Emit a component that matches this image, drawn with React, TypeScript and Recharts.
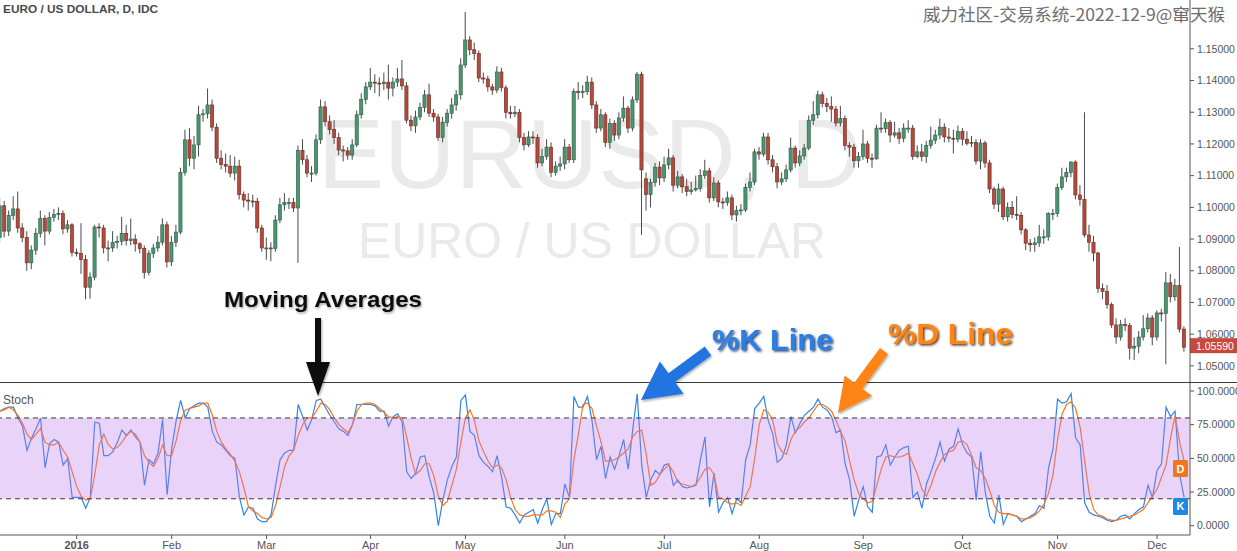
import React from "react";
import {
  ComposedChart,
  Bar,
  LineChart,
  Line,
  XAxis,
  YAxis,
  ReferenceArea,
  ReferenceLine,
} from "recharts";

// daily EUR/USD bars, Dec 2015 .. 9 Dec 2016 (index = trading day)
const opens = [
  1.0905,1.1005,1.0925,1.0975,1.0995,1.0935,1.0905,1.0825,1.0865,1.0918,
  1.0965,1.0925,1.0968,1.0978,1.0980,1.0932,1.0945,1.0858,1.0855,1.0835,
  1.0748,1.0780,1.0938,1.0935,1.0872,1.0872,1.0890,1.0893,1.0918,1.0895,
  1.0900,1.0885,1.0870,1.0795,1.0855,1.0872,1.0890,1.0945,1.0828,1.0890,
  1.0922,1.1110,1.1213,1.1155,1.1197,1.1292,1.1295,1.1323,1.1253,1.1155,
  1.1135,1.1130,1.1108,1.1130,1.1040,1.1023,1.1020,1.1018,1.0935,1.0872,
  1.0872,1.0870,1.0960,1.1008,1.1015,1.1015,1.0998,1.1180,1.1150,1.1108,
  1.1108,1.1213,1.1317,1.1270,1.1245,1.1220,1.1181,1.1178,1.1165,1.1197,
  1.1292,1.1340,1.1380,1.1395,1.1392,1.1390,1.1395,1.1376,1.1395,1.1405,
  1.1383,1.1275,1.1257,1.1285,1.1315,1.1355,1.1297,1.1285,1.1220,1.1268,
  1.1297,1.1323,1.1355,1.1449,1.1528,1.1497,1.1485,1.1408,1.1405,1.1380,
  1.1370,1.1427,1.1377,1.1300,1.1295,1.1300,1.1220,1.1197,1.1222,1.1220,
  1.1140,1.1160,1.1190,1.1110,1.1130,1.1137,1.1190,1.1150,1.1365,1.1362,
  1.1365,1.1395,1.1323,1.1250,1.1292,1.1205,1.1265,1.1228,1.1282,1.1313,
  1.1250,1.1339,1.1420,1.1090,1.1040,1.1078,1.1127,1.1093,1.1134,1.1156,
  1.1070,1.1096,1.1065,1.1050,1.1055,1.1060,1.1100,1.1115,1.1030,1.1077,
  1.1017,1.1015,1.1030,1.0976,1.0990,1.0992,1.1063,1.1080,1.1175,1.1168,
  1.1222,1.1150,1.1128,1.1080,1.1090,1.1118,1.1187,1.1140,1.1162,1.1187,
  1.1275,1.1292,1.1355,1.1328,1.1318,1.1310,1.1266,1.1280,1.1195,1.1190,
  1.1147,1.1160,1.1200,1.1155,1.1153,1.1250,1.1248,1.1267,1.1228,1.1235,
  1.1218,1.1250,1.1250,1.1160,1.1175,1.1160,1.1195,1.1212,1.1228,1.1253,
  1.1222,1.1218,1.1215,1.1240,1.1215,1.1202,1.1205,1.1146,1.1203,1.1140,
  1.1058,1.1010,1.1058,1.0970,1.1000,1.0978,1.0975,1.0929,1.0887,1.0882,
  1.0888,1.0907,1.0907,1.0980,1.0980,1.1062,1.1096,1.1110,1.1143,1.1039,
  1.1025,1.0913,1.0890,1.0856,1.0744,1.0735,1.0693,1.0629,1.0591,1.0630,
  1.0627,1.0556,1.0562,1.0591,1.0617,1.0651,1.0591,1.0667,1.0665,1.0762,
  1.0718,1.0753,1.0616,
];

const highs = [
  1.1030,1.1020,1.0990,1.1035,1.1050,1.0950,1.0925,1.0880,1.0935,1.0990,
  1.0975,1.0985,1.0995,1.1000,1.0990,1.0960,1.0950,1.0870,1.0950,1.0850,
  1.0795,1.0945,1.0950,1.0945,1.0895,1.0925,1.0910,1.0970,1.0945,1.0965,
  1.0915,1.0890,1.0880,1.0865,1.0885,1.0910,1.0965,1.0955,1.0910,1.0945,
  1.1125,1.1245,1.1250,1.1225,1.1320,1.1310,1.1375,1.1340,1.1265,1.1180,
  1.1170,1.1165,1.1160,1.1150,1.1050,1.1045,1.1040,1.1030,1.0945,1.0905,
  1.0890,1.0975,1.1030,1.1045,1.1030,1.1030,1.1195,1.1215,1.1165,1.1130,
  1.1230,1.1340,1.1335,1.1290,1.1275,1.1235,1.1195,1.1190,1.1215,1.1305,
  1.1360,1.1395,1.1440,1.1420,1.1410,1.1425,1.1450,1.1410,1.1440,1.1465,
  1.1395,1.1290,1.1305,1.1330,1.1370,1.1390,1.1310,1.1295,1.1285,1.1310,
  1.1345,1.1370,1.1470,1.1616,1.1540,1.1520,1.1495,1.1425,1.1415,1.1390,
  1.1445,1.1440,1.1385,1.1320,1.1320,1.1310,1.1235,1.1240,1.1240,1.1230,
  1.1185,1.1215,1.1205,1.1145,1.1160,1.1215,1.1200,1.1375,1.1395,1.1385,
  1.1415,1.1410,1.1335,1.1310,1.1300,1.1280,1.1275,1.1300,1.1350,1.1320,
  1.1350,1.1427,1.1428,1.1110,1.1090,1.1140,1.1145,1.1160,1.1185,1.1165,
  1.1115,1.1105,1.1090,1.1080,1.1100,1.1120,1.1150,1.1125,1.1095,1.1085,
  1.1030,1.1050,1.1040,1.1005,1.1010,1.1075,1.1110,1.1185,1.1190,1.1235,
  1.1235,1.1165,1.1140,1.1110,1.1135,1.1220,1.1195,1.1180,1.1200,1.1290,
  1.1335,1.1368,1.1365,1.1345,1.1350,1.1320,1.1320,1.1290,1.1205,1.1200,
  1.1175,1.1245,1.1210,1.1170,1.1260,1.1300,1.1280,1.1275,1.1270,1.1250,
  1.1265,1.1275,1.1260,1.1195,1.1200,1.1210,1.1255,1.1245,1.1280,1.1265,
  1.1250,1.1245,1.1258,1.1250,1.1240,1.1225,1.1215,1.1215,1.1210,1.1150,
  1.1065,1.1075,1.1065,1.1015,1.1020,1.1035,1.0985,1.0935,1.0900,1.0905,
  1.0945,1.0930,1.0985,1.0995,1.1075,1.1125,1.1125,1.1145,1.1148,1.1070,
  1.1300,1.0945,1.0910,1.0860,1.0760,1.0755,1.0700,1.0650,1.0645,1.0650,
  1.0635,1.0590,1.0610,1.0660,1.0665,1.0660,1.0675,1.0680,1.0796,1.0790,
  1.0775,1.0875,1.0625,
];

const lows = [
  1.0890,1.0905,1.0910,1.0960,1.0920,1.0890,1.0800,1.0805,1.0850,1.0905,
  1.0880,1.0915,1.0955,1.0960,1.0915,1.0920,1.0845,1.0845,1.0790,1.0710,
  1.0712,1.0770,1.0905,1.0855,1.0830,1.0860,1.0870,1.0880,1.0880,1.0880,
  1.0860,1.0855,1.0775,1.0785,1.0840,1.0860,1.0880,1.0810,1.0815,1.0875,
  1.0915,1.1100,1.1130,1.1120,1.1160,1.1270,1.1280,1.1240,1.1140,1.1120,
  1.1110,1.1095,1.1085,1.1025,1.1000,1.0990,1.1000,1.0920,1.0860,1.0835,
  1.0830,1.0860,1.0950,1.0990,1.0995,1.0985,1.0825,1.1135,1.1095,1.1080,
  1.1100,1.1200,1.1255,1.1230,1.1200,1.1165,1.1145,1.1150,1.1150,1.1190,
  1.1280,1.1325,1.1370,1.1360,1.1350,1.1370,1.1340,1.1350,1.1380,1.1370,
  1.1265,1.1240,1.1235,1.1275,1.1300,1.1285,1.1270,1.1210,1.1205,1.1255,
  1.1280,1.1305,1.1340,1.1440,1.1480,1.1465,1.1395,1.1390,1.1365,1.1355,
  1.1360,1.1365,1.1280,1.1280,1.1285,1.1205,1.1180,1.1190,1.1200,1.1125,
  1.1130,1.1150,1.1095,1.1100,1.1115,1.1120,1.1140,1.1140,1.1340,1.1345,
  1.1355,1.1310,1.1235,1.1240,1.1190,1.1185,1.1210,1.1215,1.1270,1.1235,
  1.1240,1.1330,1.0913,1.0990,1.1000,1.1065,1.1070,1.1080,1.1120,1.1050,
  1.1060,1.1045,1.1035,1.1040,1.1050,1.1050,1.1090,1.1015,1.1020,1.1000,
  1.0995,1.1005,1.0960,1.0955,1.0975,1.0985,1.1050,1.1070,1.1150,1.1160,
  1.1135,1.1110,1.1060,1.1070,1.1080,1.1110,1.1125,1.1130,1.1150,1.1180,
  1.1260,1.1280,1.1315,1.1300,1.1270,1.1255,1.1255,1.1180,1.1160,1.1125,
  1.1125,1.1150,1.1140,1.1125,1.1150,1.1235,1.1235,1.1205,1.1220,1.1200,
  1.1205,1.1235,1.1150,1.1155,1.1145,1.1140,1.1185,1.1200,1.1215,1.1205,
  1.1205,1.1170,1.1205,1.1195,1.1195,1.1190,1.1135,1.1120,1.1125,1.1045,
  1.0995,1.0985,1.0960,1.0955,1.0965,1.0960,1.0915,1.0865,1.0860,1.0860,
  1.0875,1.0885,1.0895,1.0960,1.0970,1.1055,1.1080,1.1095,1.1025,1.1005,
  1.0905,1.0860,1.0830,1.0730,1.0710,1.0680,1.0620,1.0570,1.0580,1.0610,
  1.0520,1.0518,1.0540,1.0580,1.0605,1.0565,1.0580,1.0640,1.0505,1.0700,
  1.0705,1.0605,1.0545,
];

const closes = [
  1.1005,1.0925,1.0975,1.0995,1.0935,1.0905,1.0825,1.0865,1.0918,1.0965,
  1.0925,1.0968,1.0978,1.0980,1.0932,1.0945,1.0858,1.0855,1.0835,1.0748,
  1.0780,1.0938,1.0935,1.0872,1.0872,1.0890,1.0893,1.0918,1.0895,1.0900,
  1.0885,1.0870,1.0795,1.0855,1.0872,1.0890,1.0945,1.0828,1.0890,1.0922,
  1.1110,1.1213,1.1155,1.1197,1.1292,1.1295,1.1323,1.1253,1.1155,1.1135,
  1.1130,1.1108,1.1130,1.1040,1.1023,1.1020,1.1018,1.0935,1.0872,1.0872,
  1.0870,1.0960,1.1008,1.1015,1.1015,1.0998,1.1180,1.1150,1.1108,1.1108,
  1.1213,1.1317,1.1270,1.1245,1.1220,1.1181,1.1178,1.1165,1.1197,1.1292,
  1.1340,1.1380,1.1395,1.1392,1.1390,1.1395,1.1376,1.1395,1.1405,1.1383,
  1.1275,1.1257,1.1285,1.1315,1.1355,1.1297,1.1285,1.1220,1.1268,1.1297,
  1.1323,1.1355,1.1449,1.1528,1.1497,1.1485,1.1408,1.1405,1.1380,1.1370,
  1.1427,1.1377,1.1300,1.1295,1.1300,1.1220,1.1197,1.1222,1.1220,1.1140,
  1.1160,1.1190,1.1110,1.1130,1.1137,1.1190,1.1150,1.1365,1.1362,1.1365,
  1.1395,1.1323,1.1250,1.1292,1.1205,1.1265,1.1228,1.1282,1.1313,1.1250,
  1.1339,1.1420,1.1118,1.1040,1.1078,1.1127,1.1093,1.1134,1.1156,1.1070,
  1.1096,1.1065,1.1050,1.1055,1.1060,1.1100,1.1115,1.1030,1.1077,1.1017,
  1.1015,1.1030,1.0976,1.0990,1.0992,1.1063,1.1080,1.1175,1.1168,1.1222,
  1.1150,1.1128,1.1080,1.1090,1.1118,1.1187,1.1140,1.1162,1.1187,1.1275,
  1.1292,1.1355,1.1328,1.1318,1.1310,1.1266,1.1280,1.1195,1.1190,1.1147,
  1.1160,1.1200,1.1155,1.1153,1.1250,1.1248,1.1267,1.1228,1.1235,1.1218,
  1.1250,1.1250,1.1160,1.1175,1.1160,1.1195,1.1212,1.1228,1.1253,1.1222,
  1.1218,1.1215,1.1240,1.1215,1.1202,1.1205,1.1146,1.1203,1.1140,1.1058,
  1.1010,1.1058,1.0970,1.1000,1.0978,1.0975,1.0929,1.0887,1.0882,1.0888,
  1.0907,1.0907,1.0980,1.0980,1.1062,1.1096,1.1110,1.1143,1.1039,1.1025,
  1.0913,1.0890,1.0856,1.0744,1.0735,1.0693,1.0629,1.0591,1.0630,1.0627,
  1.0556,1.0562,1.0591,1.0617,1.0651,1.0591,1.0667,1.0665,1.0762,1.0718,
  1.0753,1.0616,1.0559,
];

const stochK = [
  85,87,88,88,80,74,56,65,72,80,
  43,61,64,62,45,50,21,21,21,13,
  21,77,76,52,52,55,62,71,67,71,
  66,62,30,49,46,54,79,23,57,78,
  93,80,87,89,91,91,88,70,62,60,
  56,52,50,21,8,14,13,5,3,3,
  8,30,49,54,56,56,90,81,71,79,
  93,94,88,82,77,72,70,67,75,90,
  90,90,90,89,85,85,74,81,83,77,
  40,35,39,51,52,36,24,0,19,34,
  44,51,93,97,70,67,52,47,44,40,
  52,36,14,13,8,2,8,10,12,2,
  12,20,1,9,9,31,21,96,88,88,
  96,78,49,59,35,51,42,52,64,42,
  71,98,45,21,34,41,38,45,46,30,
  34,29,28,29,30,49,66,14,39,10,
  17,21,9,20,17,49,60,87,91,96,
  78,68,47,50,60,81,69,76,82,85,
  88,94,88,86,81,69,71,46,34,7,
  19,29,14,10,51,52,60,45,51,56,
  58,59,21,25,13,31,40,50,62,48,
  57,59,72,60,54,51,19,55,25,7,
  2,23,1,9,8,7,3,5,7,9,
  15,13,43,57,94,91,92,98,65,60,
  17,10,8,7,6,4,3,4,7,8,
  5,9,12,14,30,21,41,46,88,81,
  85,38,21,
];

const stochD = [
  85,86,88,86,82,76,68,64,68,72,
  62,60,60,62,56,51,40,29,22,19,
  20,38,60,68,60,57,58,62,67,70,
  68,62,52,47,44,50,60,52,52,63,
  78,86,87,88,89,91,91,82,70,62,
  57,53,48,40,28,14,11,9,6,5,
  6,15,29,44,52,56,67,75,80,80,
  85,91,90,86,80,75,72,69,75,85,
  90,91,91,90,87,84,81,80,81,80,
  66,50,38,41,46,46,37,22,15,18,
  30,42,62,80,86,78,63,55,48,43,
  45,43,34,21,12,8,7,7,8,8,
  8,11,11,10,6,16,20,49,68,90,
  91,87,74,62,48,48,49,51,54,57,
  66,70,71,53,30,32,38,42,45,40,
  32,31,30,29,31,36,42,43,38,21,
  20,17,16,17,15,22,29,50,75,86,
  84,78,61,55,53,64,70,73,77,80,
  85,90,90,88,85,78,70,63,48,34,
  24,20,17,18,30,42,51,52,51,51,
  52,54,46,38,27,22,30,40,47,53,
  55,56,62,63,60,52,43,41,35,26,
  15,10,9,9,8,7,5,5,6,8,
  11,16,24,38,64,83,90,92,87,73,
  48,24,12,8,7,5,4,4,5,6,
  7,8,10,12,17,22,27,36,45,65,
  82,62,48,
];

const monthTicks = [17, 38, 59, 82, 103, 125, 147, 168, 191, 213, 234, 256];
const monthLabels = ["2016", "Feb", "Mar", "Apr", "May", "Jun", "Jul", "Aug", "Sep", "Oct", "Nov", "Dec"];
const priceTicks = [1.05, 1.06, 1.07, 1.08, 1.09, 1.1, 1.11, 1.12, 1.13, 1.14, 1.15];
const stochTicks = [0, 25, 50, 75, 100];

const FONT = '"Liberation Sans", Arial, sans-serif';
const W = 1237;
const AXIS_W = 47;
const X_DOMAIN: [number, number] = [0.03, 263.3];
const STOCH_DOMAIN: [number, number] = [-6.9, 105.95];
const BAR = (W - AXIS_W) / (X_DOMAIN[1] - X_DOMAIN[0]);
const LAST = closes.length - 1;

const candles = closes.map((c, i) => ({
  i,
  o: opens[i],
  h: highs[i],
  l: lows[i],
  c,
  range: [lows[i], highs[i]],
}));

const stoch = stochK.map((k, i) => ({ i, k, d: stochD[i] }));

function Candle(props: any) {
  const { x, y, width, height, payload } = props;
  if (x == null || y == null || !payload) return null;
  const top = Math.min(y, y + height);
  const bot = Math.max(y, y + height);
  const span = payload.h - payload.l || 1;
  const py = (p: number) => top + ((payload.h - p) / span) * (bot - top);
  const cx = x + width / 2;
  const up = payload.c >= payload.o;
  const bTop = py(Math.max(payload.o, payload.c));
  const bBot = py(Math.min(payload.o, payload.c));
  return (
    <g>
      <line x1={cx} x2={cx} y1={top} y2={bot} stroke="#4a4a4a" strokeWidth={1} />
      <rect
        x={cx - 1.6}
        y={bTop}
        width={3.2}
        height={Math.max(bBot - bTop, 1)}
        fill={up ? "#4b9571" : "#b34a3d"}
        stroke={up ? "#2c5c45" : "#6a2a22"}
        strokeWidth={0.6}
      />
    </g>
  );
}

function MonthTick({ x, y, payload }: any) {
  const label = monthLabels[monthTicks.indexOf(payload.value)] ?? "";
  return (
    <text x={x} y={y} dy="0.71em" textAnchor="middle" fontSize={11} fill="#555"
      fontWeight={label === "2016" ? 700 : 400} fontFamily={FONT}>
      {label}
    </text>
  );
}

function PriceTag({ viewBox }: any) {
  if (!viewBox) return null;
  const x = viewBox.x + viewBox.width;
  const y = viewBox.y;
  return (
    <g>
      <rect x={x} y={y - 9} width={AXIS_W} height={15} fill="#c9483c" />
      <text x={x + 6} y={y + 2.5} fontSize={10.5} fill="#fff" fontFamily={FONT}>
        {closes[LAST].toFixed(5)}
      </text>
    </g>
  );
}

function SideTag({ viewBox, text, color, shift }: any) {
  if (!viewBox) return null;
  const x = viewBox.x + viewBox.width - 17;
  const y = viewBox.y + shift;
  return (
    <g>
      <rect x={x} y={y - 8.5} width={15} height={17} rx={1.5} fill={color} />
      <text x={x + 7.5} y={y + 4} textAnchor="middle" fontSize={11} fontWeight={700} fill="#fff" fontFamily={FONT}>
        {text}
      </text>
    </g>
  );
}

function arrow(tx: number, ty: number, fx: number, fy: number, headLen: number, headW: number, shaftW: number) {
  const len = Math.hypot(tx - fx, ty - fy);
  const ux = (tx - fx) / len;
  const uy = (ty - fy) / len;
  const nx = -uy;
  const ny = ux;
  const bx = tx - ux * headLen;
  const by = ty - uy * headLen;
  const pts = [
    [fx + (nx * shaftW) / 2, fy + (ny * shaftW) / 2],
    [bx + (nx * shaftW) / 2, by + (ny * shaftW) / 2],
    [bx + (nx * headW) / 2, by + (ny * headW) / 2],
    [tx, ty],
    [bx - (nx * headW) / 2, by - (ny * headW) / 2],
    [bx - (nx * shaftW) / 2, by - (ny * shaftW) / 2],
    [fx - (nx * shaftW) / 2, fy - (ny * shaftW) / 2],
  ];
  return pts.map((p) => p.join(",")).join(" ");
}

export default function App() {
  return (
    <div style={{ position: "absolute", left: 0, top: 0, width: W, height: 551, overflow: "hidden", background: "#fff", fontFamily: FONT }}>
      {/* watermark behind the candles */}
      <svg width={W} height={383} style={{ position: "absolute", left: 0, top: 0 }}>
        <text x={318} y={188} fontSize={98} fill="#eaeaea" fontFamily={FONT} textLength={544} lengthAdjust="spacingAndGlyphs">
          EURUSD, D
        </text>
        <text x={358} y={258} fontSize={50} fill="#eaeaea" fontFamily={FONT} textLength={468} lengthAdjust="spacingAndGlyphs">
          EURO / US DOLLAR
        </text>
      </svg>

      <div style={{ position: "absolute", left: 0, top: 0 }}>
        <ComposedChart width={W} height={383} data={candles} margin={{ top: 0, right: 0, bottom: 0, left: 0 }}>
          <XAxis dataKey="i" type="number" domain={X_DOMAIN} allowDataOverflow hide />
          <YAxis
            orientation="right"
            width={AXIS_W}
            domain={[1.0446, 1.1654]}
            allowDataOverflow
            ticks={priceTicks}
            interval={0}
            tickSize={4}
            tickMargin={3}
            tickFormatter={(v: number) => v.toFixed(5)}
            axisLine={{ stroke: "#555" }}
            tickLine={{ stroke: "#555" }}
            tick={{ fontSize: 10.5, fill: "#555", fontFamily: FONT }}
          />
          <Bar dataKey="range" barSize={BAR} shape={Candle} isAnimationActive={false} />
          <ReferenceLine y={closes[LAST]} stroke="none" label={(p: any) => <PriceTag {...p} />} />
        </ComposedChart>
      </div>

      <div style={{ position: "absolute", left: 0, top: 382, width: W, height: 1, background: "#3a3a3a" }} />

      {/* stochastic lines */}
      <div style={{ position: "absolute", left: 0, top: 383 }}>
        <LineChart width={W} height={168} data={stoch} margin={{ top: 0, right: 0, bottom: 0, left: 0 }}>
          <XAxis
            dataKey="i"
            type="number"
            domain={X_DOMAIN}
            allowDataOverflow
            ticks={monthTicks}
            interval={0}
            height={16}
            tickSize={4}
            tick={MonthTick}
            axisLine={{ stroke: "#555" }}
            tickLine={{ stroke: "#555" }}
          />
          <YAxis
            orientation="right"
            width={AXIS_W}
            domain={STOCH_DOMAIN}
            allowDataOverflow
            ticks={stochTicks}
            interval={0}
            tickSize={4}
            tickMargin={3}
            tickFormatter={(v: number) => v.toFixed(4)}
            axisLine={{ stroke: "#555" }}
            tickLine={{ stroke: "#555" }}
            tick={{ fontSize: 10.5, fill: "#555", fontFamily: FONT }}
          />
          <Line type="linear" dataKey="k" stroke="#2d84ea" strokeWidth={1.2} dot={false} isAnimationActive={false} />
          <Line type="linear" dataKey="d" stroke="#ff7417" strokeWidth={1.2} dot={false} isAnimationActive={false} />
        </LineChart>
      </div>

      {/* translucent 20-80 band over the lines, same scales */}
      <div style={{ position: "absolute", left: 0, top: 383, pointerEvents: "none" }}>
        <LineChart width={W} height={168} data={stoch} margin={{ top: 0, right: 0, bottom: 0, left: 0 }}>
          <XAxis dataKey="i" type="number" domain={X_DOMAIN} allowDataOverflow height={16} tick={false} axisLine={false} tickLine={false} />
          <YAxis orientation="right" width={AXIS_W} domain={STOCH_DOMAIN} allowDataOverflow tick={false} axisLine={false} tickLine={false} />
          <ReferenceArea y1={20} y2={80} fill="#bd79ee" fillOpacity={0.33} stroke="none" />
          <ReferenceLine y={80} stroke="#3a3a3a" strokeDasharray="5 4" />
          <ReferenceLine y={20} stroke="#3a3a3a" strokeDasharray="5 4" />
          <ReferenceLine y={stochD[LAST]} stroke="none"
            label={(p: any) => <SideTag {...p} text="D" color="#f0761e" shift={7.5} />} />
          <ReferenceLine y={stochK[LAST]} stroke="none"
            label={(p: any) => <SideTag {...p} text="K" color="#1e88e5" shift={9} />} />
        </LineChart>
      </div>

      {/* titles and annotations */}
      <svg width={W} height={551} style={{ position: "absolute", left: 0, top: 0, pointerEvents: "none" }}>
        <defs>
          <filter id="shBlue" x="-10%" y="-20%" width="130%" height="150%">
            <feDropShadow dx="1.5" dy="1.5" stdDeviation="0.8" floodColor="#0b2a5c" floodOpacity="0.9" />
          </filter>
          <filter id="shOrange" x="-10%" y="-20%" width="130%" height="150%">
            <feDropShadow dx="1.5" dy="1.5" stdDeviation="0.8" floodColor="#4a2000" floodOpacity="0.9" />
          </filter>
          <filter id="shSoft" x="-10%" y="-20%" width="130%" height="150%">
            <feDropShadow dx="1" dy="1.5" stdDeviation="1.2" floodColor="#000" floodOpacity="0.35" />
          </filter>
        </defs>
        <text x={3} y={13} fontSize={11.5} fontWeight={700} fill="#4a4a4a" fontFamily={FONT} textLength={155} lengthAdjust="spacingAndGlyphs">
          EURO / US DOLLAR, D, IDC
        </text>
        <text x={923} y={21} fontSize={17} fill="#6e6e6e" fontFamily='"Noto Sans CJK SC", sans-serif' textLength={302} lengthAdjust="spacingAndGlyphs">
          威力社区-交易系统-2022-12-9@窜天猴
        </text>
        <text x={3} y={404} fontSize={12} fill="#555" fontFamily={FONT}>Stoch</text>

        <text x={224} y={307} fontSize={22} fontWeight={700} fill="#111" fontFamily={FONT} textLength={198}
          lengthAdjust="spacingAndGlyphs" filter="url(#shSoft)">
          Moving Averages
        </text>
        <polygon points={arrow(318, 396, 318, 318, 34, 24, 6)} fill="#111" filter="url(#shSoft)" />

        <text x={712} y={350} fontSize={30} fontWeight={700} fill="#2b7fe6" fontFamily={FONT} textLength={121}
          lengthAdjust="spacingAndGlyphs" filter="url(#shBlue)">
          %K Line
        </text>
        <polygon points={arrow(641, 400, 708, 351, 38, 40, 11)} fill="#2474e0" filter="url(#shSoft)" />

        <text x={888} y={344} fontSize={30} fontWeight={700} fill="#ff8418" fontFamily={FONT} textLength={125}
          lengthAdjust="spacingAndGlyphs" filter="url(#shOrange)">
          %D Line
        </text>
        <polygon points={arrow(838, 413, 884, 351, 34, 34, 10)} fill="#ff8418" filter="url(#shSoft)" />
      </svg>
    </div>
  );
}
